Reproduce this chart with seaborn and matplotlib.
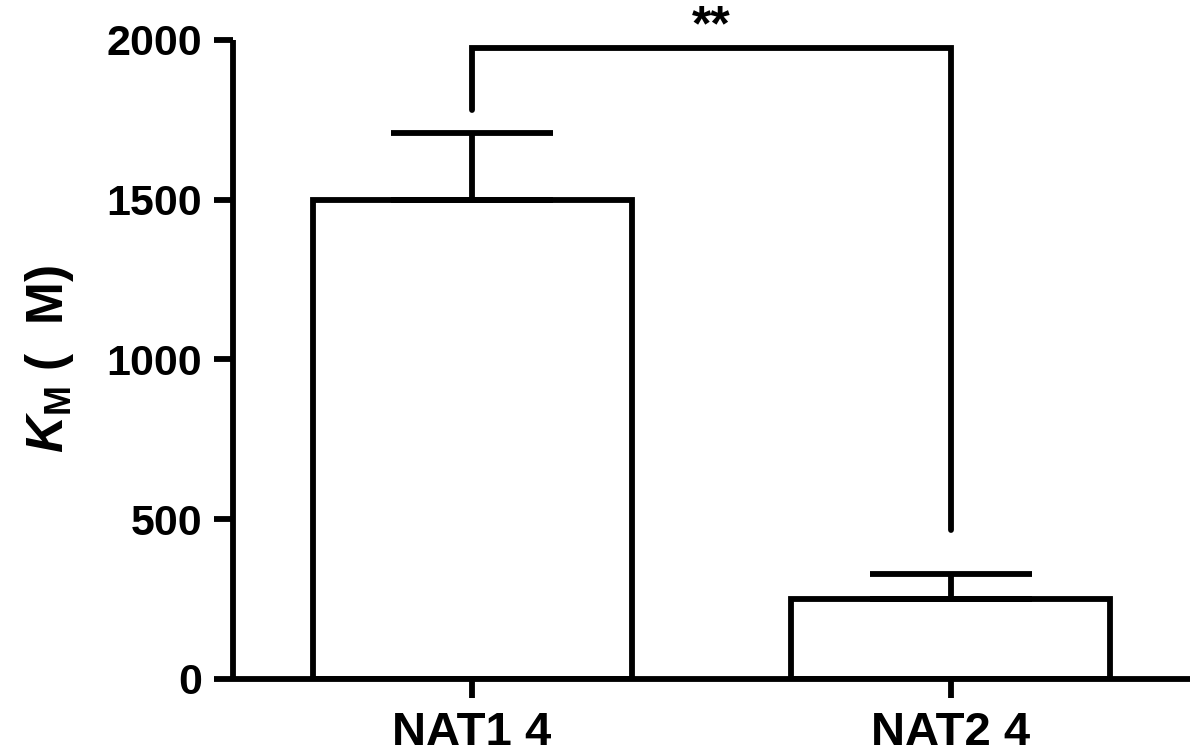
import seaborn as sns
import matplotlib
matplotlib.use('Agg')
import matplotlib.pyplot as plt
import pandas as pd

groups = ['NAT1 4', 'NAT2 4']
km_mean = [1500, 250]
km_err = [210, 78]
bracket_y = 1975
bracket_left_bottom = 1780
bracket_right_bottom = 465
star_text = '**'

sns.set_style('ticks')
plt.rcParams['font.family'] = ['Liberation Sans', 'DejaVu Sans']
plt.rcParams['font.weight'] = 'bold'
plt.rcParams['text.color'] = 'black'
plt.rcParams['axes.edgecolor'] = 'black'
plt.rcParams['axes.labelcolor'] = 'black'
plt.rcParams['xtick.color'] = 'black'
plt.rcParams['ytick.color'] = 'black'
plt.rcParams['mathtext.fontset'] = 'custom'
plt.rcParams['mathtext.rm'] = 'Liberation Sans:bold'
plt.rcParams['mathtext.it'] = 'Liberation Sans:bold:italic'
plt.rcParams['mathtext.bf'] = 'Liberation Sans:bold'

lw = 4.2
df = pd.DataFrame({'group': groups, 'km': km_mean})

fig = plt.figure(figsize=(11.94, 7.53), dpi=100)
ax = fig.add_axes([0.195, 0.0983, 0.8016, 0.8486])

sns.barplot(data=df, x='group', y='km', color='white', edgecolor='black',
            linewidth=lw, width=0.667, ax=ax, errorbar=None)
for p in ax.patches:
    p.set_facecolor('white')
    p.set_edgecolor('black')

# one-sided error bars
ax.errorbar(range(len(groups)), km_mean, yerr=[[0] * len(groups), km_err],
            fmt='none', ecolor='black', elinewidth=lw, capsize=58,
            capthick=lw, zorder=3)

# significance bracket
ax.plot([0, 0, 1, 1], [bracket_left_bottom, bracket_y, bracket_y, bracket_right_bottom],
        color='black', lw=lw, solid_capstyle='round', solid_joinstyle='miter',
        clip_on=False)
ax.text(0.5, 2040, star_text, ha='center', va='center',
        fontsize=36, fontweight='bold', clip_on=False)

ax.set_xlim(-0.5, 1.5)
ax.set_ylim(0, 2000)
ax.set_yticks([0, 500, 1000, 1500, 2000])
ax.set_xlabel('')
ax.set_ylabel(r'$K_{\mathrm{M}}$ (  M)', fontsize=37, fontweight='bold', labelpad=22)

for s in ['top', 'right']:
    ax.spines[s].set_visible(False)
for s in ['left', 'bottom']:
    ax.spines[s].set_linewidth(lw)
    ax.spines[s].set_capstyle('butt')

ax.tick_params(axis='both', width=lw, length=14, color='black')
ax.tick_params(axis='y', labelsize=31, pad=8)
ax.tick_params(axis='x', labelsize=34, pad=9)
for lab in ax.get_xticklabels() + ax.get_yticklabels():
    lab.set_fontweight('bold')

fig.savefig('out.png', dpi=100)
